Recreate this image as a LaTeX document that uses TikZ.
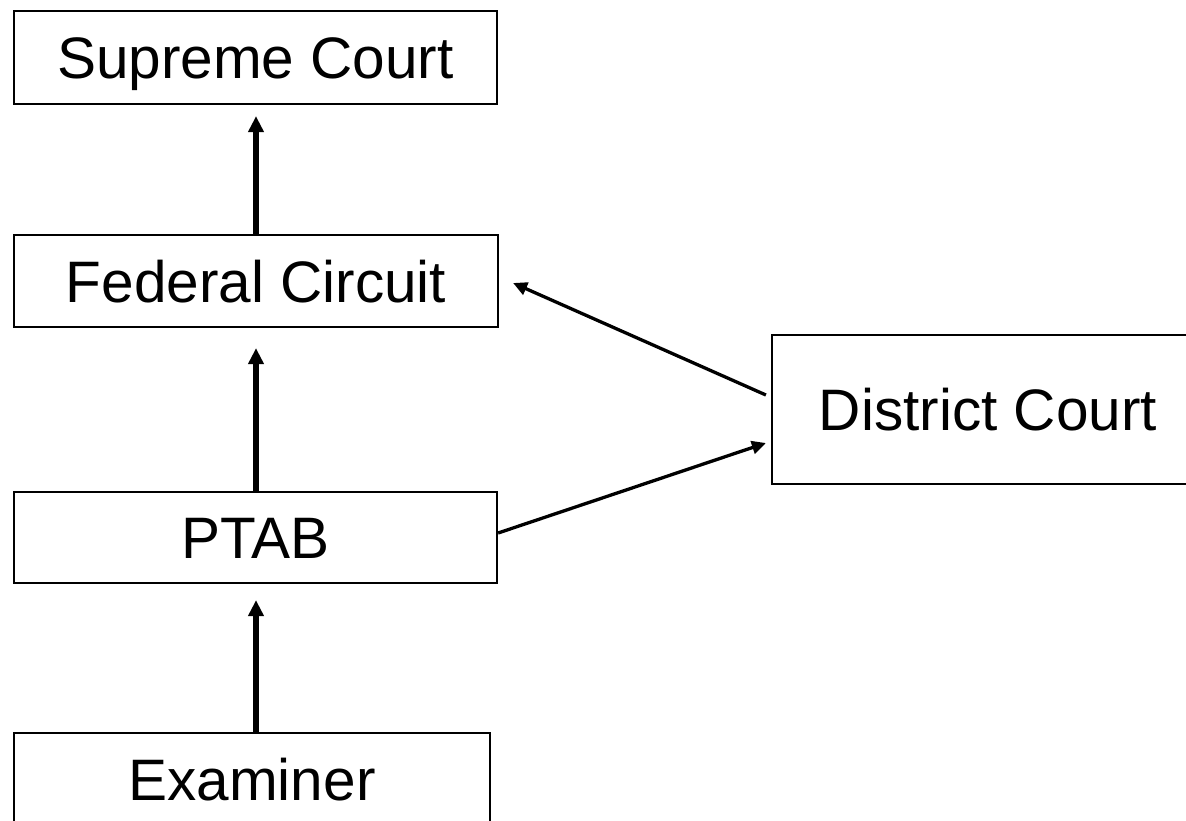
\documentclass[tikz,border=0pt]{standalone}
\usepackage{fontspec}
\setmainfont{Liberation Sans}
\usetikzlibrary{arrows.meta,calc}
\begin{document}
\begin{tikzpicture}[x=1pt,y=-1pt,
  box/.style={draw=black,line width=2.2pt,rectangle,inner sep=0pt,
    font=\fontsize{58.5}{62}\selectfont,text height=42pt,text depth=0pt},
  uparrow/.style={line width=6pt,-{Triangle[length=16pt,width=15pt]}},
  diagarrow/.style={line width=3.3pt,-{Triangle[length=14pt,width=13pt]}}]
\useasboundingbox (0,0) rectangle (1186,820);
\clip (0,0) rectangle (1186,820);
\node[box,minimum width=483pt,minimum height=93pt] (sc) at (255.5,57.5) {Supreme Court};
\node[box,minimum width=484pt,minimum height=92pt] (fc) at (256,281) {Federal Circuit};
\node[box,minimum width=483pt,minimum height=91pt] (ptab) at (255.5,537.5) {PTAB};
\node[box,minimum width=476pt,minimum height=93pt] (ex) at (252,779.5) {Examiner};
\node[box,minimum width=432pt,minimum height=149pt] (dc) at (988,409.5) {District Court};
\draw[uparrow,shorten >=11pt] (fc.north) -- ([xshift=0.5pt]sc.south);
\draw[uparrow,shorten >=20pt] ([xshift=0.5pt]ptab.north) -- (fc.south);
\draw[uparrow,shorten >=16pt] ([xshift=4pt]ex.north) -- ([xshift=0.5pt]ptab.south);
\draw[diagarrow] ([xshift=-5pt,yshift=14.5pt]dc.west) -- ([xshift=14pt,yshift=-2pt]fc.east);
\draw[diagarrow] ([yshift=4.5pt]ptab.east) -- ([xshift=-5pt,yshift=-33.5pt]dc.west);
\end{tikzpicture}
\end{document}
